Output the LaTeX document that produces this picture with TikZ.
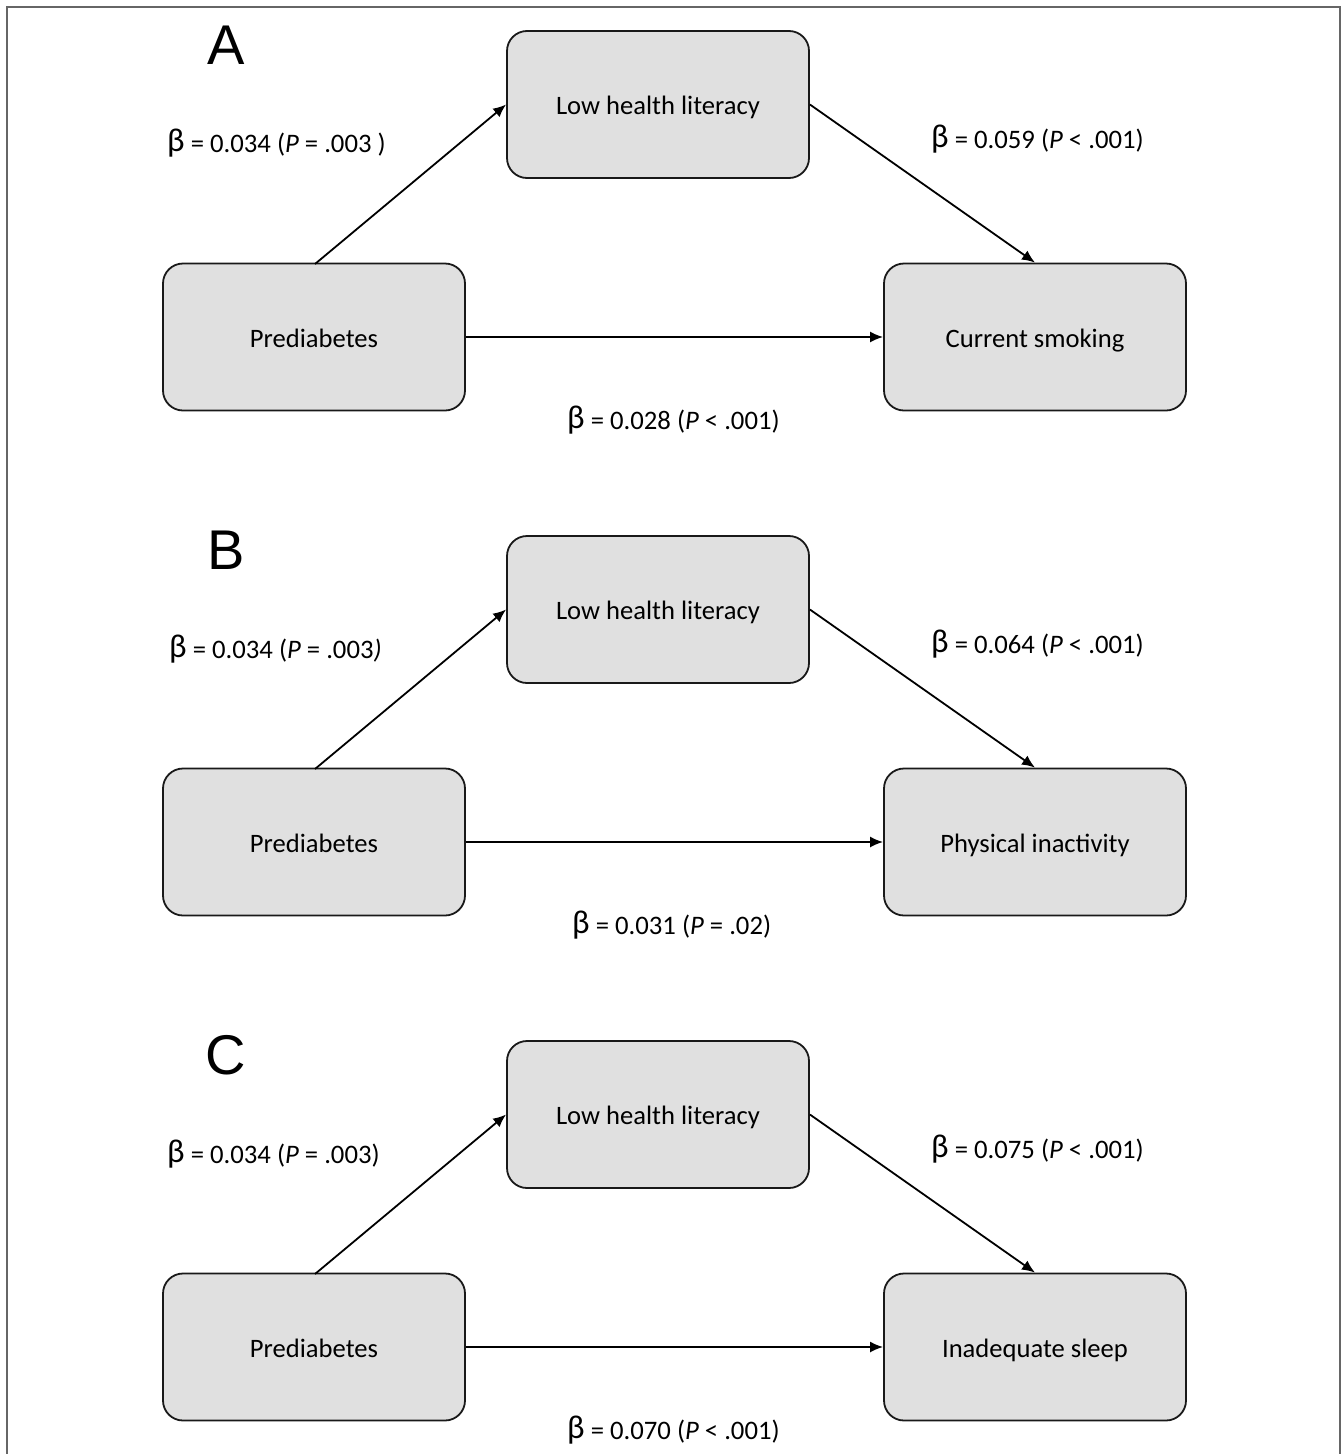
\documentclass[tikz,border=0pt]{standalone}
\usepackage{fontspec}
\setmainfont{Carlito}
\newfontfamily\letterfont{Liberation Sans}
\usetikzlibrary{arrows.meta}
\begin{document}
\begin{tikzpicture}[x=1pt,y=-1pt,
  box/.style={draw=black!90,line width=1.8pt,fill=black!12,rounded corners=20pt,
    minimum width=302pt,minimum height=147pt,font=\fontsize{26.6}{30}\selectfont,inner sep=0pt,
    text height=21pt,text depth=1pt},
  conn/.style={line width=1.8pt,-{Latex[length=13pt,width=11pt]}},
  lab/.style={font=\fontsize{26.7}{30}\selectfont,inner sep=0pt,anchor=west},
  panel/.style={font=\letterfont\fontsize{56}{60}\selectfont,inner sep=0pt}]
\useasboundingbox (0,0) rectangle (1344,1454);
\draw[line width=1.6pt,black!60] (7,1454) -- (7,7) -- (1340,7) -- (1340,1454);
\newcommand{\bet}{{\fontsize{33}{34}\selectfont\raisebox{1pt}{β}}}
\foreach \dy/\plet/\outc/\la/\lb/\lc/\lax/\lbx/\lcx/\lay/\lby/\lcy [count=\i] in {
 0/A/Current smoking/{= 0.034 (\textit{P} = .003 )}/{= 0.059 (\textit{P} < .001)}/{= 0.028 (\textit{P} < .001)}/167/931/567/143/139/420,
 505/B/Physical inactivity/{= 0.034 (\textit{P} = .003\textit{)}}/{= 0.064 (\textit{P} < .001)}/{= 0.031 (\textit{P} = .02)}/169/931/572/649/644/925,
 1010/C/Inadequate sleep/{= 0.034 (\textit{P} = .003)}/{= 0.075 (\textit{P} < .001)}/{= 0.070 (\textit{P} < .001)}/167/931/567/1154/1149/1430}
{
  \node[panel] (let\i) at (226,45+\dy) {\plet};
  \node[box] (lhl\i) at (658,104.5+\dy) {Low health literacy};
  \node[box] (pre\i) at (314,337+\dy) {Prediabetes};
  \node[box] (out\i) at (1035,337+\dy) {\outc};
  \draw[conn] (315,264+\dy) coordinate (s\i) -- (lhl\i.west);
  \draw[conn] (lhl\i.east) -- (out\i.north);
  \draw[conn] (pre\i) -- (out\i);
  \node[lab] (la\i) at (\lax,\lay) {\bet\ \la};
  \node[lab] (lb\i) at (\lbx,\lby) {\bet\ \lb};
  \node[lab] (lc\i) at (\lcx,\lcy) {\bet\ \lc};
}
\end{tikzpicture}
\end{document}
